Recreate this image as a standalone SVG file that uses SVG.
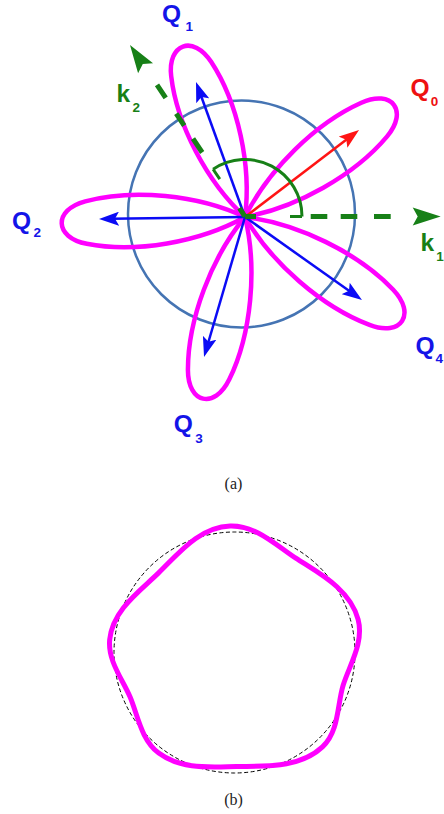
<svg xmlns="http://www.w3.org/2000/svg" xmlns:xlink="http://www.w3.org/1999/xlink" width="444" height="814" viewBox="0 0 444 814">
<style>
.lobe{fill:none;stroke:#ff00ff;stroke-width:4.5;stroke-linejoin:round}
.qb{fill:none;stroke:#0b0bf5;stroke-width:2.5}
.qr{fill:none;stroke:#ff1414;stroke-width:2.5}
.gd{fill:none;stroke:#178017;stroke-width:5}
.ga{fill:none;stroke:#178017;stroke-width:3}
.lbl{font-family:"Liberation Sans",Arial,sans-serif;font-weight:bold;font-size:24.5px}
.sub{font-size:13.5px}
.blue{fill:#1414e8}
.red{fill:#ee1111}
.green{fill:#178017}
.cap{font-family:"Liberation Serif","Times New Roman",serif;font-size:16px;fill:#222;text-anchor:middle}
</style>
<defs>
<marker id="hb" viewBox="0 0 20 14" markerWidth="20" markerHeight="14" markerUnits="userSpaceOnUse" refX="8" refY="7" orient="auto"><path d="M0,0 L20,7 L0,14 L4,7 Z" fill="#0b0bf5"/></marker>
<marker id="hr" viewBox="0 0 20 14" markerWidth="20" markerHeight="14" markerUnits="userSpaceOnUse" refX="8" refY="7" orient="auto"><path d="M0,0 L20,7 L0,14 L4,7 Z" fill="#ff1414"/></marker>
<path id="gh" d="M0,0 L-28,-9 L-23,0 L-28,9 Z" fill="#178017"/>
</defs>

<g id="panel-a">
<circle id="circle" cx="241.5" cy="214" r="113.5" fill="none" stroke="#4574b3" stroke-width="2.5"/>

<g id="lobe-Q0" transform="translate(245,217) rotate(-37)"><path class="lobe" d="M0,0 C47,-23.75 112.8,-32.5 161.7,-21.25 C194.6,-13.75 194.6,13.75 161.7,21.25 C112.8,32.5 47,23.75 0,0Z"/></g>
<g id="lobe-Q1" transform="translate(245,217) rotate(-110)"><path class="lobe" d="M0,0 C45.75,-23.75 109.8,-32.5 157.4,-21.25 C189.4,-13.75 189.4,13.75 157.4,21.25 C109.8,32.5 45.75,23.75 0,0Z"/></g>
<g id="lobe-Q2" transform="translate(245,217) rotate(178)"><path class="lobe" d="M0,0 C46.25,-23.75 111,-32.5 159.1,-21.25 C191.5,-13.75 191.5,13.75 159.1,21.25 C111,32.5 46.25,23.75 0,0Z"/></g>
<g id="lobe-Q3" transform="translate(245,217) rotate(103)"><path class="lobe" d="M0,0 C47,-23.75 112.8,-32.5 161.7,-21.25 C194.6,-13.75 194.6,13.75 161.7,21.25 C112.8,32.5 47,23.75 0,0Z"/></g>
<g id="lobe-Q4" transform="translate(245,217) rotate(33.5)"><path class="lobe" d="M0,0 C47.5,-23.75 114,-32.5 163.4,-21.25 C196.7,-13.75 196.7,13.75 163.4,21.25 C114,32.5 47.5,23.75 0,0Z"/></g>

<g id="connectors">
<line class="qr" x1="245" y1="217" x2="349.5" y2="137.3" marker-end="url(#hr)"/>
<line class="qb" x1="245" y1="217" x2="200.1" y2="93.3" marker-end="url(#hb)"/>
<line class="qb" x1="245" y1="217" x2="111" y2="218.8" marker-end="url(#hb)"/>
<line class="qb" x1="245" y1="217" x2="207.4" y2="345.5" marker-end="url(#hb)"/>
<line class="qb" x1="245" y1="217" x2="352.2" y2="293.1" marker-end="url(#hb)"/>
<path class="gd" d="M245,216.5 H256 M310.7,216.5 H327.3 M340.7,216.5 H357.3 M374,216.5 H390.7"/>
<use xlink:href="#gh" href="#gh" transform="translate(440.7,216.5)"/>
<path class="gd" d="M245,216.5 L239.4,208.2 M202.2,152.5 L193,138.7 M184.2,125.6 L176.2,113.7 M165.7,97.9 L157,84.8"/>
<use xlink:href="#gh" href="#gh" transform="translate(130,45) rotate(-123.77)"/>
<path class="ga" d="M302,216.5 A57,57 0 0 0 213.1,169.25 M290,216.5 H302 M219.8,179.2 L213.1,169.25"/>
</g>

<g id="labels">
<text class="lbl red" x="410.4" y="95.5">Q<tspan class="sub" x="430.8" y="106">0</tspan></text>
<text class="lbl blue" x="162" y="22.1">Q<tspan class="sub" x="185.6" y="30.7">1</tspan></text>
<text class="lbl blue" x="12" y="228.8">Q<tspan class="sub" x="33.4" y="236.7">2</tspan></text>
<text class="lbl blue" x="173.8" y="432.1">Q<tspan class="sub" x="195.2" y="442.7">3</tspan></text>
<text class="lbl blue" x="415.4" y="353.8">Q<tspan class="sub" x="435.6" y="363">4</tspan></text>
<text class="lbl green" x="116.5" y="101.7">k<tspan class="sub" x="132.6" y="112">2</tspan></text>
<text class="lbl green" x="420.5" y="250.8">k<tspan class="sub" x="436.2" y="261">1</tspan></text>
</g>
<text class="cap" x="233.5" y="488.5">(a)</text>
</g>

<g id="panel-b">
<circle id="ref-circle" cx="234.5" cy="652.5" r="120.5" fill="none" stroke="#000" stroke-width="1" stroke-dasharray="4 2.5"/>
<path id="wavy" fill="none" stroke="#ff00ff" stroke-width="5" d="M230.1,526.0 C256.1,525.1 276.4,545.6 295.8,558.2 C319.1,573.3 349.9,588.9 358.1,619.4 C364.3,642.6 349.2,665.4 343.0,685.7 C337.2,704.8 339.1,731.5 322.5,746.9 C299.2,768.6 264.7,766.0 236.5,766.5 C211.1,766.9 181.2,770.0 158.7,753.1 C141.0,739.8 137.8,715.1 130.0,696.8 C122.5,679.1 107.5,660.6 109.7,639.4 C112.8,610.1 139.5,591.4 158.1,573.4 C177.7,554.5 198.8,527.1 230.1,526.0 Z"/>
<text class="cap" x="233.5" y="804.5">(b)</text>
</g>
</svg>
